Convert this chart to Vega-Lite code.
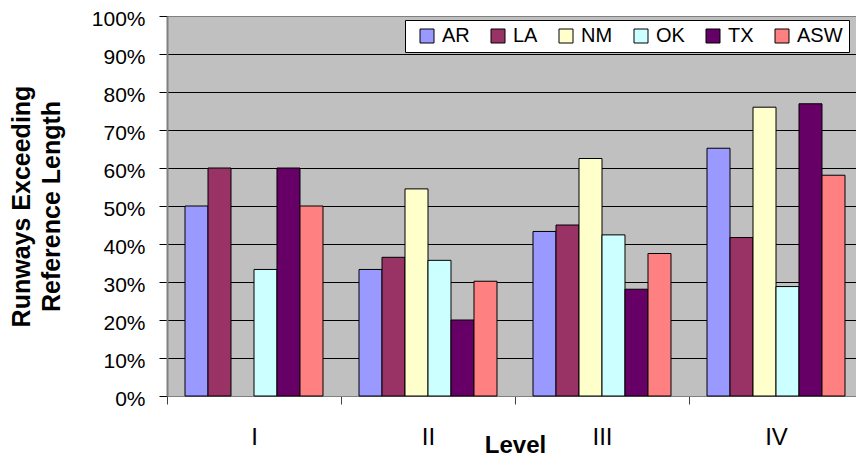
{
  "$schema": "https://vega.github.io/schema/vega-lite/v6.json",
  "width": 696,
  "height": 380,
  "autosize": {"type": "none"},
  "padding": {"left": 167, "top": 16, "right": 0, "bottom": 61},
  "background": "white",
  "config": {
    "font": "Liberation Sans",
    "view": {"fill": "#C0C0C0", "stroke": "#808080", "strokeWidth": 1}
  },
  "data": {
    "values": [
      {"level": "I", "region": "AR", "share": 0.50},
      {"level": "I", "region": "LA", "share": 0.60},
      {"level": "I", "region": "OK", "share": 0.333},
      {"level": "I", "region": "TX", "share": 0.60},
      {"level": "I", "region": "ASW", "share": 0.50},
      {"level": "II", "region": "AR", "share": 0.333},
      {"level": "II", "region": "LA", "share": 0.365},
      {"level": "II", "region": "NM", "share": 0.545},
      {"level": "II", "region": "OK", "share": 0.357},
      {"level": "II", "region": "TX", "share": 0.20},
      {"level": "II", "region": "ASW", "share": 0.302},
      {"level": "III", "region": "AR", "share": 0.433},
      {"level": "III", "region": "LA", "share": 0.45},
      {"level": "III", "region": "NM", "share": 0.625},
      {"level": "III", "region": "OK", "share": 0.424},
      {"level": "III", "region": "TX", "share": 0.281},
      {"level": "III", "region": "ASW", "share": 0.375},
      {"level": "IV", "region": "AR", "share": 0.652},
      {"level": "IV", "region": "LA", "share": 0.417},
      {"level": "IV", "region": "NM", "share": 0.76},
      {"level": "IV", "region": "OK", "share": 0.288},
      {"level": "IV", "region": "TX", "share": 0.769},
      {"level": "IV", "region": "ASW", "share": 0.581}
    ]
  },
  "mark": {"type": "bar", "stroke": "black", "strokeWidth": 1},
  "encoding": {
    "x": {
      "field": "level",
      "type": "nominal",
      "sort": ["I", "II", "III", "IV"],
      "scale": {"paddingInner": 0, "paddingOuter": 0},
      "axis": {
        "title": "Level",
        "labelAngle": 0,
        "labelFontSize": 24,
        "labelColor": "black",
        "labelBaseline": "alphabetic",
        "labelPadding": 40,
        "tickBand": "extent",
        "tickSize": 8,
        "tickColor": "#404040",
        "domainColor": "#808080",
        "grid": false,
        "titleFontSize": 24,
        "titleFontWeight": "bold",
        "titleColor": "black",
        "titleBaseline": "alphabetic",
        "titleY": 56
      }
    },
    "xOffset": {
      "field": "region",
      "type": "nominal",
      "scale": {"domain": ["AR", "LA", "NM", "OK", "TX", "ASW"], "paddingInner": 0, "paddingOuter": 0.783}
    },
    "y": {
      "field": "share",
      "type": "quantitative",
      "scale": {"domain": [0, 1]},
      "axis": {
        "title": ["Runways Exceeding", "Reference Length"],
        "format": ".0%",
        "values": [0, 0.1, 0.2, 0.3, 0.4, 0.5, 0.6, 0.7, 0.8, 0.9, 1],
        "labelFontSize": 21,
        "labelColor": "black",
        "labelPadding": 14,
        "labelFlush": false,
        "labelOffset": 3,
        "tickSize": 8,
        "tickColor": "black",
        "domainColor": "#808080",
        "domainWidth": 2,
        "grid": true,
        "gridColor": {"condition": {"test": "datum.value >= 1", "value": "#808080"}, "value": "black"},
        "gridWidth": 1,
        "titleFontSize": 25,
        "titleFontWeight": "bold",
        "titleColor": "black",
        "titleLineHeight": 30,
        "titleAngle": -90,
        "titleAlign": "center",
        "titleBaseline": "top",
        "titleX": -158,
        "titleY": 190
      }
    },
    "color": {
      "field": "region",
      "type": "nominal",
      "scale": {
        "domain": ["AR", "LA", "NM", "OK", "TX", "ASW"],
        "range": ["#9999FF", "#993366", "#FFFFCC", "#CCFFFF", "#660066", "#FF8080"]
      },
      "legend": {
        "orient": "none",
        "legendX": 238,
        "legendY": 4,
        "direction": "horizontal",
        "columns": 6,
        "title": " ",
        "titleOrient": "left",
        "titleFontSize": 8,
        "titlePadding": 6,
        "fillColor": "white",
        "strokeColor": "black",
        "padding": 6,
        "symbolType": "square",
        "symbolSize": 196,
        "symbolStrokeColor": "black",
        "symbolStrokeWidth": 1,
        "symbolOpacity": 1,
        "labelFontSize": 20,
        "labelColor": "black",
        "labelOffset": 5,
        "columnPadding": 18
      }
    }
  }
}
